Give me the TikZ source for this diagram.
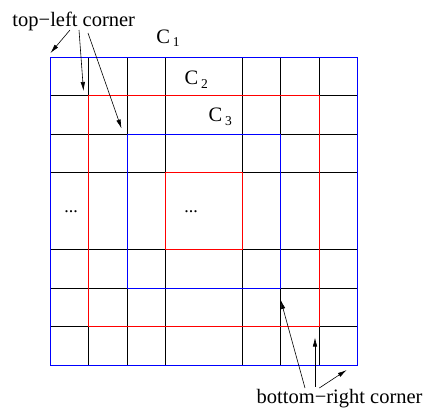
\documentclass[tikz,border=0pt]{standalone}
\usepackage{fontspec}
\setmainfont{Liberation Serif}
\usetikzlibrary{arrows.meta}
\begin{document}
\begin{tikzpicture}[x=1pt,y=-1pt,
  gridline/.style={black,line width=0.8pt},
  bluebox/.style={blue,line width=1.4pt},
  redbox/.style={red,line width=1.4pt},
  pointer/.style={black,line width=0.6pt,-{Latex[length=9pt,width=4.5pt]}},
  lbl/.style={inner sep=0pt,font=\fontsize{20.5}{24}\selectfont}]
\useasboundingbox (0,0) rectangle (429,408);
\def\gx{{50.5,88.5,127.5,165.5,242.5,280.5,319.5,357.5}}
\def\gy{{57.5,95.5,134.5,172.5,249.5,288.5,326.5,365.5}}
% black grid segments that are not on a coloured contour
\foreach \i in {0,...,7}{
  \foreach \j in {0,...,6}{
    \pgfmathtruncatemacro\k{min(\i,7-\i)}
    \pgfmathtruncatemacro\cov{and(\k<=\j,\j+1<=7-\k)}
    \ifnum\cov=0
      \pgfmathsetmacro\va{\gx[\i]}
      \pgfmathsetmacro\vb{\gy[\j]}
      \pgfmathsetmacro\vc{\gy[\j+1]}
      \draw[gridline] (\va,\vb) -- (\va,\vc);
      \pgfmathsetmacro\ha{\gy[\i]}
      \pgfmathsetmacro\hb{\gx[\j]}
      \pgfmathsetmacro\hc{\gx[\j+1]}
      \draw[gridline] (\hb,\ha) -- (\hc,\ha);
    \fi
  }
}
% nested contours
\draw[bluebox] (50.5,57.5) rectangle (357.5,365.5);
\draw[redbox] (88.5,95.5) rectangle (319.5,326.5);
\draw[bluebox] (127.5,134.5) rectangle (280.5,288.5);
\draw[redbox] (165.5,172.5) rectangle (242.5,249.5);
% labels
\newcommand{\sbx}[1]{\hspace{2.8pt}\raisebox{-3.3pt}{\fontsize{13.5}{15}\selectfont #1}}
\node[lbl,anchor=base west] (c1) at (156.2,43.3) {C\sbx{1}};
\node[lbl,anchor=base west] (c2) at (184.5,84.7) {C\sbx{2}};
\node[lbl,anchor=base west] (c3) at (208.5,121.7) {C\sbx{3}};
\node[lbl,anchor=base,font=\fontsize{18}{20}\selectfont] (d1) at (71,212.5) {...};
\node[lbl,anchor=base,font=\fontsize{18}{20}\selectfont] (d2) at (191,212.5) {...};
\node[lbl,anchor=base west] (tl) at (12.3,26.7) {top−left corner};
\node[lbl,anchor=base west] (br) at (256.5,403.3) {bottom−right corner};
% pointer ends
\coordinate (a1s) at (70,30);
\coordinate (a1e) at (50.5,53);
\coordinate (a2s) at (79,30);
\coordinate (a2e) at (83.5,91);
\coordinate (a3s) at (88,33);
\coordinate (a3e) at (121.5,128.5);
\coordinate (b1s) at (305,388);
\coordinate (b1e) at (280.7,300);
\coordinate (b2s) at (315,386.7);
\coordinate (b2e) at (315,337.5);
\coordinate (b3s) at (319.3,388);
\coordinate (b3e) at (346.7,370);
\draw[pointer] (a1s) -- (a1e);
\draw[pointer] (a2s) -- (a2e);
\draw[pointer] (a3s) -- (a3e);
\draw[pointer] (b1s) -- (b1e);
\draw[pointer] (b2s) -- (b2e);
\draw[pointer] (b3s) -- (b3e);
\end{tikzpicture}
\end{document}
